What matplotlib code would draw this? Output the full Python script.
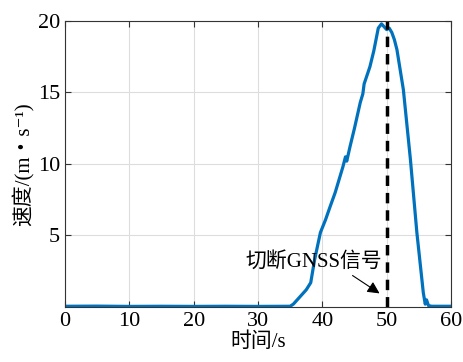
import matplotlib
matplotlib.use("Agg")
import matplotlib.pyplot as plt

time_s = [0, 5, 10, 15, 20, 25, 30, 35.0, 35.5, 36.5, 37.5, 38.2, 38.8, 39.7, 40.5, 41.2, 42.0, 43.2,
          43.6, 43.8, 44.3, 45.0, 45.9, 46.3, 46.5, 47.4, 48.0, 48.7, 49.2, 49.6, 50.0, 50.4, 50.8,
          51.2, 51.6, 52.6, 53.7, 54.7, 55.7, 56.0, 56.2, 56.5, 57, 60]
speed = [0.05, 0.06, 0.04, 0.05, 0.04, 0.05, 0.04, 0.05, 0.2, 0.7, 1.2, 1.7, 3.3, 5.2, 6.1, 7.0, 8.0, 9.8,
         10.5, 10.2, 11.2, 12.5, 14.3, 14.9, 15.6, 16.8, 17.9, 19.5, 19.8, 19.6, 19.4, 19.5, 19.2,
         18.7, 18.0, 15.2, 10.3, 5.2, 1.0, 0.2, 0.5, 0.1, 0.05, 0.05]
cut_time = 50
xticks = [0, 10, 20, 30, 40, 50, 60]
yticks = [5, 10, 15, 20]

plt.rcParams['font.family'] = ['Liberation Serif', 'Noto Sans CJK SC', 'DejaVu Serif']

fig = plt.figure(figsize=(4.63, 3.62), dpi=100)
ax = fig.add_axes([0.1404, 0.152, 0.8336, 0.790])
ax.plot(time_s, speed, color='#0072BD', linewidth=2.3)
ax.axvline(cut_time, color='black', linestyle=(0, (3, 2)), linewidth=2.5)
ax.set_xlim(0, 60)
ax.set_ylim(0, 20)
ax.set_xticks(xticks)
ax.set_yticks(yticks)
ax.tick_params(direction='in', labelsize=16, length=4, color='#333333', top=True, right=True,
               labeltop=False, labelright=False)
ax.grid(True, color='#dddddd', linewidth=0.8)
for s in ax.spines.values():
    s.set_color('#333333')
    s.set_linewidth(0.8)
ax.set_xlabel('时间/s', fontsize=15, labelpad=1)
ax.set_ylabel('速度/(m・s⁻¹)', fontsize=15, labelpad=2)
ax.text(38.7, 3.15, '切断GNSS信号', fontsize=15, ha='center', va='center')
ax.annotate('', xy=(48.9, 0.95), xytext=(44.7, 2.2),
            arrowprops=dict(arrowstyle='-|>', color='black', lw=0.8, mutation_scale=18,
                            shrinkA=0, shrinkB=0))
fig.savefig('out.png', dpi=100)
